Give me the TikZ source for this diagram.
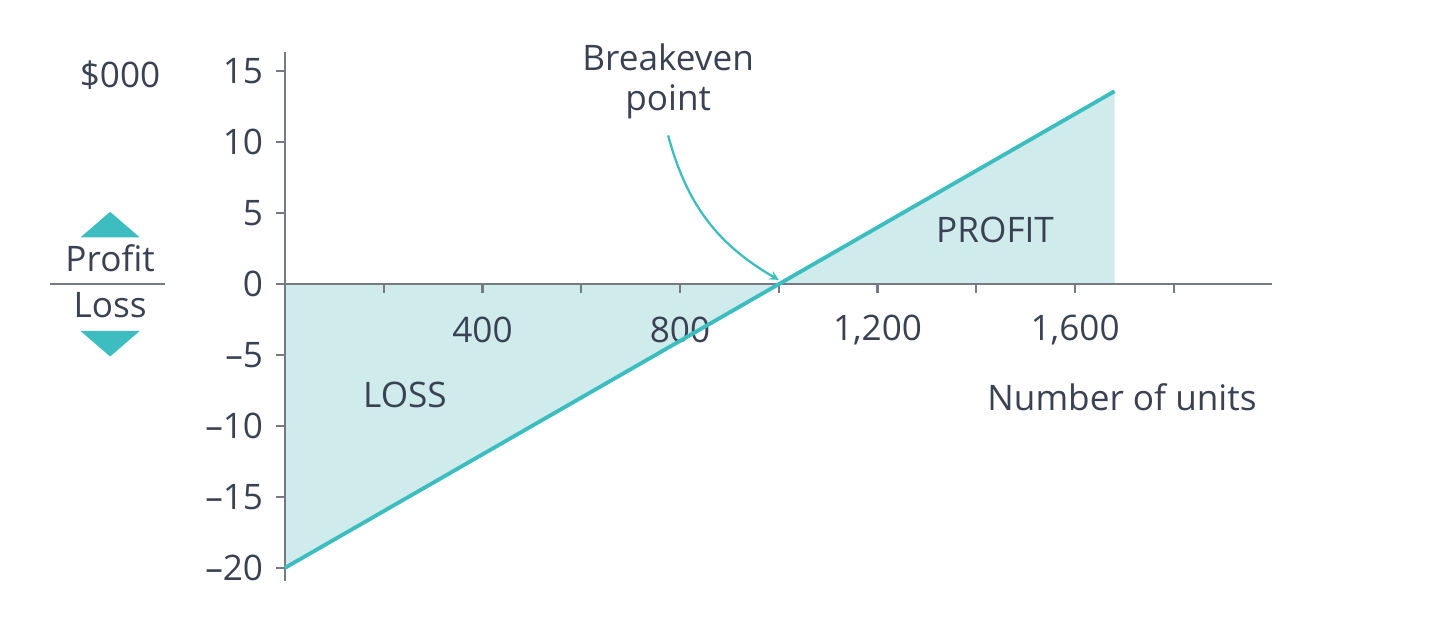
\documentclass[tikz,border=0pt]{standalone}
\usepackage{fontspec}
\setmainfont{Open Sans}
\usetikzlibrary{positioning}
\definecolor{teal1}{HTML}{3DBDBF}
\definecolor{tealfill}{HTML}{CFEBEC}
\definecolor{ink}{HTML}{3A4152}
\tikzset{
  axis/.style={ink!70, line width=1.2pt},
  lbl/.style={font=\fontsize{20}{23}\selectfont, text=ink, inner sep=1pt},
  tri/.style={fill=teal1, draw=none}
}
\begin{document}
\begin{tikzpicture}[x={(0.009875cm,0)}, y={(0,0.2836cm)}]
  \useasboundingbox (-577,-23.41) rectangle (2339,20.03);
  % Shaded areas
  \fill[tealfill] (0,0) -- (0,-20) -- (1000,0) -- cycle;
  \fill[tealfill] (1000,0) -- (1680,13.6) -- (1680,0) -- cycle;
  % Axes
  \draw[axis] (0,16.4) -- (0,-20.9);
  \draw[axis] (0,0) -- (1999,0);
  \foreach \y in {15,10,...,-20}
    \draw[axis] (-18,\y) -- (0,\y);
  \foreach \x in {200,400,...,1800}
    \draw[axis] (\x,0) -- (\x,-0.6);
  % Tick labels
  \foreach \y/\t in {15/15,10/10,5/5,0/0,-5/\textendash5,-10/\textendash10,-15/\textendash15,-20/\textendash20}
    \node[lbl, anchor=east] (ty\y) at (-40,\y) {\t};
  \foreach \x/\t in {400/400,800/800,1200/{1,200},1600/{1,600}}
    \node[lbl] (tx\x) at (\x,-3.25) {\t};
  % Profit line
  \draw[teal1, line width=2.2pt] (0,-20) -- (1680,13.6);
  % Labels
  \node[lbl] (unit) at (-334,14.7) {\$000};
  \node[lbl] (loss) at (243,-7.8) {LOSS};
  \node[lbl] (profit) at (1438,3.8) {PROFIT};
  \node[lbl] (units) at (1695,-8.0) {Number of units};
  \node[lbl, align=center] (be) at (776,14.3) {Breakeven\\point};
  \coordinate (bept) at (1000,0.3);
  \draw[teal1, line width=1.3pt, ->, >=stealth] (be.south) ++(0,-1.0) to[out=-75, in=150] (bept);
  % Profit/Loss key
  \node[lbl] (pr) at (-354,1.8) {Profit};
  \node[lbl] (ls) at (-354,-1.5) {Loss};
  \draw[ink!70, line width=1pt] (-476,0) -- (-243,0);
  \fill[tri] (-414,3.3) -- (-294,3.3) -- (-354,5.1) -- cycle;
  \fill[tri] (-414,-3.3) -- (-294,-3.3) -- (-354,-5.1) -- cycle;
\end{tikzpicture}
\end{document}
